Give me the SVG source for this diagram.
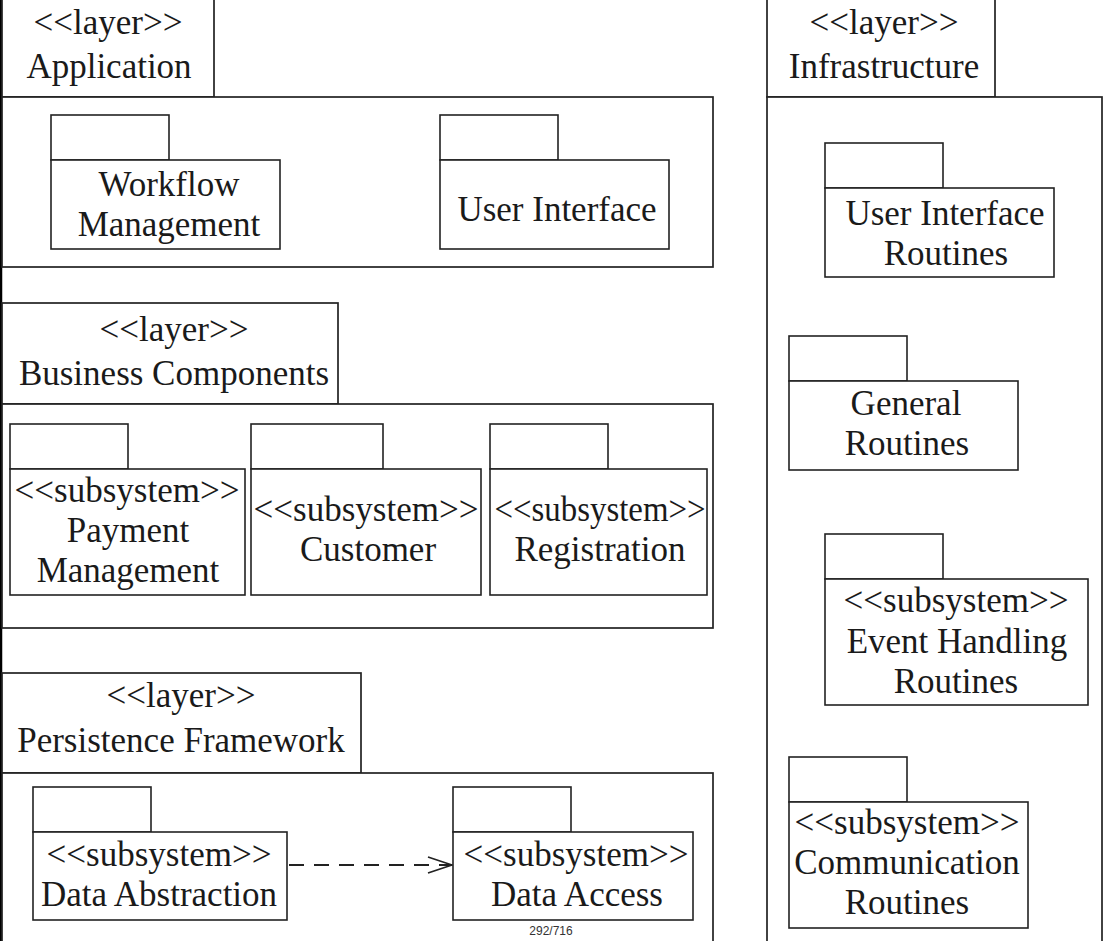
<svg xmlns="http://www.w3.org/2000/svg" width="1104" height="941" viewBox="0 0 1104 941">
<defs>
<style>
.frame{fill:#fff;stroke:#222;stroke-width:1.7}
.pkg{fill:#fff;stroke:#222;stroke-width:1.6}
text{font-family:"Liberation Serif","Times New Roman",serif;font-size:35px;fill:#1a1a1a;text-anchor:middle}
.pg{font-family:"Liberation Sans",Arial,sans-serif;font-size:12px;fill:#333}
.dep{fill:none;stroke:#222;stroke-width:1.8;stroke-dasharray:15 10}
</style>
<marker id="open" viewBox="0 0 26 18" refX="25" refY="9" markerWidth="26" markerHeight="18" markerUnits="userSpaceOnUse" orient="auto">
<path d="M1,1 L25,9 L1,17" fill="none" stroke="#222" stroke-width="1.8"/>
</marker>
</defs>
<rect width="1104" height="941" fill="#fff"/>
<line x1="1" y1="0" x2="1" y2="941" stroke="#000" stroke-width="2.5"/>

<g id="layer-application">
<rect class="frame" x="2" y="-3" width="212" height="100"/>
<rect class="frame" x="2" y="97" width="711" height="170"/>
<text x="108" y="34">&lt;&lt;layer&gt;&gt;</text>
<text x="109" y="78">Application</text>
</g>
<g id="pkg-workflow">
<rect class="pkg" x="51" y="115" width="118" height="45"/>
<rect class="pkg" x="51" y="160" width="229" height="89"/>
<text x="169" y="196">Workflow</text>
<text x="169" y="236">Management</text>
</g>
<g id="pkg-user-interface">
<rect class="pkg" x="440" y="115" width="118" height="45"/>
<rect class="pkg" x="440" y="160" width="229" height="89"/>
<text x="557" y="221">User Interface</text>
</g>

<g id="layer-business">
<rect class="frame" x="2" y="303" width="336" height="101"/>
<rect class="frame" x="2" y="404" width="711" height="224"/>
<text x="174" y="341">&lt;&lt;layer&gt;&gt;</text>
<text x="174" y="385">Business Components</text>
</g>
<g id="pkg-payment">
<rect class="pkg" x="10" y="424" width="118" height="45"/>
<rect class="pkg" x="10" y="469" width="235" height="126"/>
<text x="127" y="502">&lt;&lt;subsystem&gt;&gt;</text>
<text x="128" y="542">Payment</text>
<text x="128" y="582">Management</text>
</g>
<g id="pkg-customer">
<rect class="pkg" x="251" y="424" width="132" height="45"/>
<rect class="pkg" x="251" y="469" width="230" height="126"/>
<text x="366" y="521">&lt;&lt;subsystem&gt;&gt;</text>
<text x="368" y="561">Customer</text>
</g>
<g id="pkg-registration">
<rect class="pkg" x="490" y="424" width="118" height="45"/>
<rect class="pkg" x="490" y="469" width="217" height="126"/>
<text x="600" y="521" textLength="211" lengthAdjust="spacingAndGlyphs">&lt;&lt;subsystem&gt;&gt;</text>
<text x="600" y="561">Registration</text>
</g>

<g id="layer-persistence">
<rect class="frame" x="2" y="673" width="359" height="100"/>
<rect class="frame" x="2" y="773" width="711" height="172"/>
<text x="181" y="707">&lt;&lt;layer&gt;&gt;</text>
<text x="181" y="752">Persistence Framework</text>
</g>
<g id="pkg-data-abstraction">
<rect class="pkg" x="33" y="787" width="118" height="45"/>
<rect class="pkg" x="33" y="832" width="254" height="88"/>
<text x="159" y="866">&lt;&lt;subsystem&gt;&gt;</text>
<text x="159" y="906">Data Abstraction</text>
</g>
<g id="pkg-data-access">
<rect class="pkg" x="453" y="787" width="118" height="45"/>
<rect class="pkg" x="453" y="832" width="240" height="88"/>
<text x="576" y="866">&lt;&lt;subsystem&gt;&gt;</text>
<text x="577" y="906">Data Access</text>
</g>

<g id="layer-infrastructure">
<rect class="frame" x="767" y="-3" width="228" height="100"/>
<rect class="frame" x="767" y="97" width="335" height="848"/>
<text x="884" y="34">&lt;&lt;layer&gt;&gt;</text>
<text x="884" y="78">Infrastructure</text>
</g>
<g id="pkg-ui-routines">
<rect class="pkg" x="825" y="143" width="118" height="45"/>
<rect class="pkg" x="825" y="188" width="229" height="89"/>
<text x="945" y="225">User Interface</text>
<text x="946" y="265">Routines</text>
</g>
<g id="pkg-general-routines">
<rect class="pkg" x="789" y="336" width="118" height="45"/>
<rect class="pkg" x="789" y="381" width="229" height="89"/>
<text x="906" y="415">General</text>
<text x="907" y="455">Routines</text>
</g>
<g id="pkg-event-handling">
<rect class="pkg" x="825" y="534" width="118" height="45"/>
<rect class="pkg" x="825" y="579" width="263" height="126"/>
<text x="956" y="612">&lt;&lt;subsystem&gt;&gt;</text>
<text x="957" y="653">Event Handling</text>
<text x="956" y="693">Routines</text>
</g>
<g id="pkg-communication">
<rect class="pkg" x="789" y="757" width="118" height="45"/>
<rect class="pkg" x="789" y="802" width="239" height="126"/>
<text x="907" y="834">&lt;&lt;subsystem&gt;&gt;</text>
<text x="907" y="874">Communication</text>
<text x="907" y="914">Routines</text>
</g>

<g id="connectors">
<line class="dep" x1="289" y1="865" x2="452" y2="865" marker-end="url(#open)"/>
</g>

<text class="pg" x="551" y="935">292/716</text>
</svg>
